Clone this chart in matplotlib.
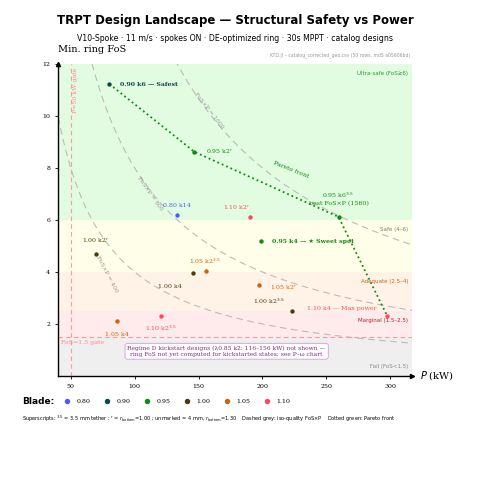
import matplotlib
matplotlib.use("Agg")
import matplotlib.pyplot as plt
import numpy as np

blade_vals = ["0.80", "0.90", "0.95", "1.00", "1.05", "1.10"]
blade_colors = ["#4a5cff", "#0b4a4a", "#118a11", "#4a3d10", "#d0620a", "#ff4a5a"]

labels = ["0.90 k6 — Safest", "0.95 k2$^r$", "0.95 k6$^{3.5}$\nbest FoS×P (1580)", "1.10 k4 — Max power",
          "0.80 k14", "1.10 k2$^r$", "0.95 k4 — ★ Sweet spot", "1.00 k2$^r$", "1.05 k2$^{3.5}$",
          "1.00 k4", "1.05 k2$^r$", "1.00 k2$^{3.5}$", "1.05 k4", "1.10 k2$^{3.5}$"]
power = [80.2, 146.8, 259.5, 297.6, 133, 190.5, 199, 70, 155.5, 146, 197, 223, 86.5, 120.6]
fos = [11.23, 8.62, 6.12, 2.31, 6.19, 6.12, 5.19, 4.69, 4.04, 3.96, 3.5, 2.5, 2.12, 2.31]
blade = [1, 2, 2, 5, 0, 5, 2, 3, 4, 3, 4, 3, 4, 5]
pareto_idx = [0, 1, 2, 3]
iso_levels = [400, 800, 1600]
bands = [(6, 12, "#e2fce2", "Ultra-safe (FoS≥6)", "#2a9a2a"),
         (4, 6, "#fffee8", "Safe (4–6)", "#8a7a6a"),
         (2.5, 4, "#fff3e8", "Adequate (2.5–4)", "#d0620a"),
         (1.5, 2.5, "#ffebeb", "Marginal (1.5–2.5)", "#b02030"),
         (0, 1.5, "#efefef", "Fail (FoS<1.5)", "#888888")]

SER = ["DejaVu Serif", "DejaVu Sans"]
fig = plt.figure(figsize=(5, 5), dpi=100)
ax = fig.add_axes([0.116, 0.248, 0.708, 0.624])
xmin, xmax = 40, 317
ax.set_xlim(xmin, xmax); ax.set_ylim(0, 12)
for lo, hi, c, t, tc in bands:
    ax.axhspan(lo, hi, color=c, zorder=0, lw=0)
    yt = hi - 0.35 if lo != 0 else 0.35
    ax.text(314, yt, t, ha="right", va="center", fontsize=4, color=tc)

P = np.linspace(30, xmax, 300)
rot = {400: -62, 800: -55, 1600: -52}
lpos = {400: (78, 3.9), 800: (112, 7.0), 1600: (158, 10.2)}
for L in iso_levels:
    ax.plot(P, L / P, ls=(0, (6, 4)), color="#bbbbbb", lw=0.8, zorder=1)
    x0, y0 = lpos[L]
    ax.text(x0, y0, f"FoS×P = {L}", rotation=rot[L], fontsize=4.3, color="#999999",
            ha="center", va="center", family=SER)

ax.axvline(50, color="#ff9a9a", ls=(0, (4, 3)), lw=0.8, zorder=1)
ax.text(52, 11.0, "P=50 kW gate", rotation=90, fontsize=4.5, color="#ff8a8a", family=SER, va="center")
ax.axhline(1.5, color="#ff9a9a", ls=(0, (4, 3)), lw=0.8, zorder=1)
ax.text(42, 1.3, "FoS=1.5 gate", fontsize=4.5, color="#ff8a8a", family=SER, va="center")

ax.plot([power[i] for i in pareto_idx], [fos[i] for i in pareto_idx], ls=":", color="#118a11", lw=1.3, zorder=2)
ax.text(222, 7.6, "Pareto front", rotation=-22, fontsize=4.5, color="#118a11", family=SER, ha="center")

offs = {0: (8, 0, "left"), 1: (8, 0, "left"), 2: (0, 13, "center"),
        3: (-8, 5, "right"), 4: (0, 7, "center"), 5: (-10, 7, "center"),
        6: (8, 0, "left"), 7: (0, 10, "center"), 8: (0, 7, "center"),
        9: (-8, -10, "right"), 10: (8, -2, "left"), 11: (-5, 7, "right"),
        12: (0, -10, "center"), 13: (0, -9, "center")}
for i, (x, y) in enumerate(zip(power, fos)):
    c = blade_colors[blade[i]]
    ax.scatter(x, y, s=10, color=c, zorder=4, lw=0)
    dx, dy, ha = offs[i]
    ax.annotate(labels[i], (x, y), xytext=(dx, dy), textcoords="offset points", ha=ha, va="center",
                fontsize=4.5, color=c, family=SER, multialignment="center",
                weight="bold" if i in (0, 6) else "normal")

ax.text(172, 0.95, "Regime D kickstart designs (λ0.85 k2: 116–156 kW) not shown —\nring FoS not yet computed for kickstarted states; see P–ω chart",
        fontsize=4.3, color="#7a2a8a", family=SER, ha="center", va="center",
        bbox=dict(boxstyle="round,pad=0.4", fc="white", ec="#d8a8e0", lw=0.7))

for s in ["top", "right"]: ax.spines[s].set_visible(False)
ax.spines["left"].set_linewidth(1.0); ax.spines["bottom"].set_linewidth(1.0)
ax.plot(1, 0, ">k", transform=ax.transAxes, clip_on=False, ms=3)
ax.plot(0, 1, "^k", transform=ax.transAxes, clip_on=False, ms=3)
ax.set_xticks([50, 100, 150, 200, 250, 300]); ax.set_yticks([2, 4, 6, 8, 10, 12])
ax.tick_params(labelsize=4.5, length=2, width=0.6)
for t in ax.get_xticklabels() + ax.get_yticklabels(): t.set_family(SER)
fig.text(0.116, 0.895, "Min. ring FoS", fontsize=7, family=SER, ha="left")
fig.text(0.84, 0.248, "$P$ (kW)", fontsize=7, family=SER, va="center")
fig.text(0.82, 0.888, "KTD.jl – catalog_corrected_geo.csv (50 rows, md5 a05606bd)", fontsize=3.3, color="#999999", ha="right")

fig.text(0.47, 0.952, "TRPT Design Landscape — Structural Safety vs Power", fontsize=8.5, weight="bold", ha="center")
fig.text(0.47, 0.918, "V10-Spoke · 11 m/s · spokes ON · DE-optimized ring · 30s MPPT · catalog designs", fontsize=5.6, ha="center")

fig.text(0.045, 0.197, "Blade:", fontsize=6.5, weight="bold", va="center")
for k, (b, c) in enumerate(zip(blade_vals, blade_colors)):
    x0 = 0.135 + k * 0.08
    fig.patches.append(plt.Circle((x0, 0.197), 0.004, color=c, transform=fig.transFigure, figure=fig))
    fig.text(x0 + 0.018, 0.197, b, fontsize=4.5, family=SER, va="center")
fig.text(0.045, 0.163, "Superscripts: $^{3.5}$ = 3.5 mm tether ; $^r$ = $r_{\\rm bottom}$=1.00 ; unmarked = 4 mm, $r_{\\rm bottom}$=1.30    Dashed grey: iso-quality FoS×P    Dotted green: Pareto front",
         fontsize=3.6, va="center")
fig.savefig("out.png", dpi=100, facecolor="white")
